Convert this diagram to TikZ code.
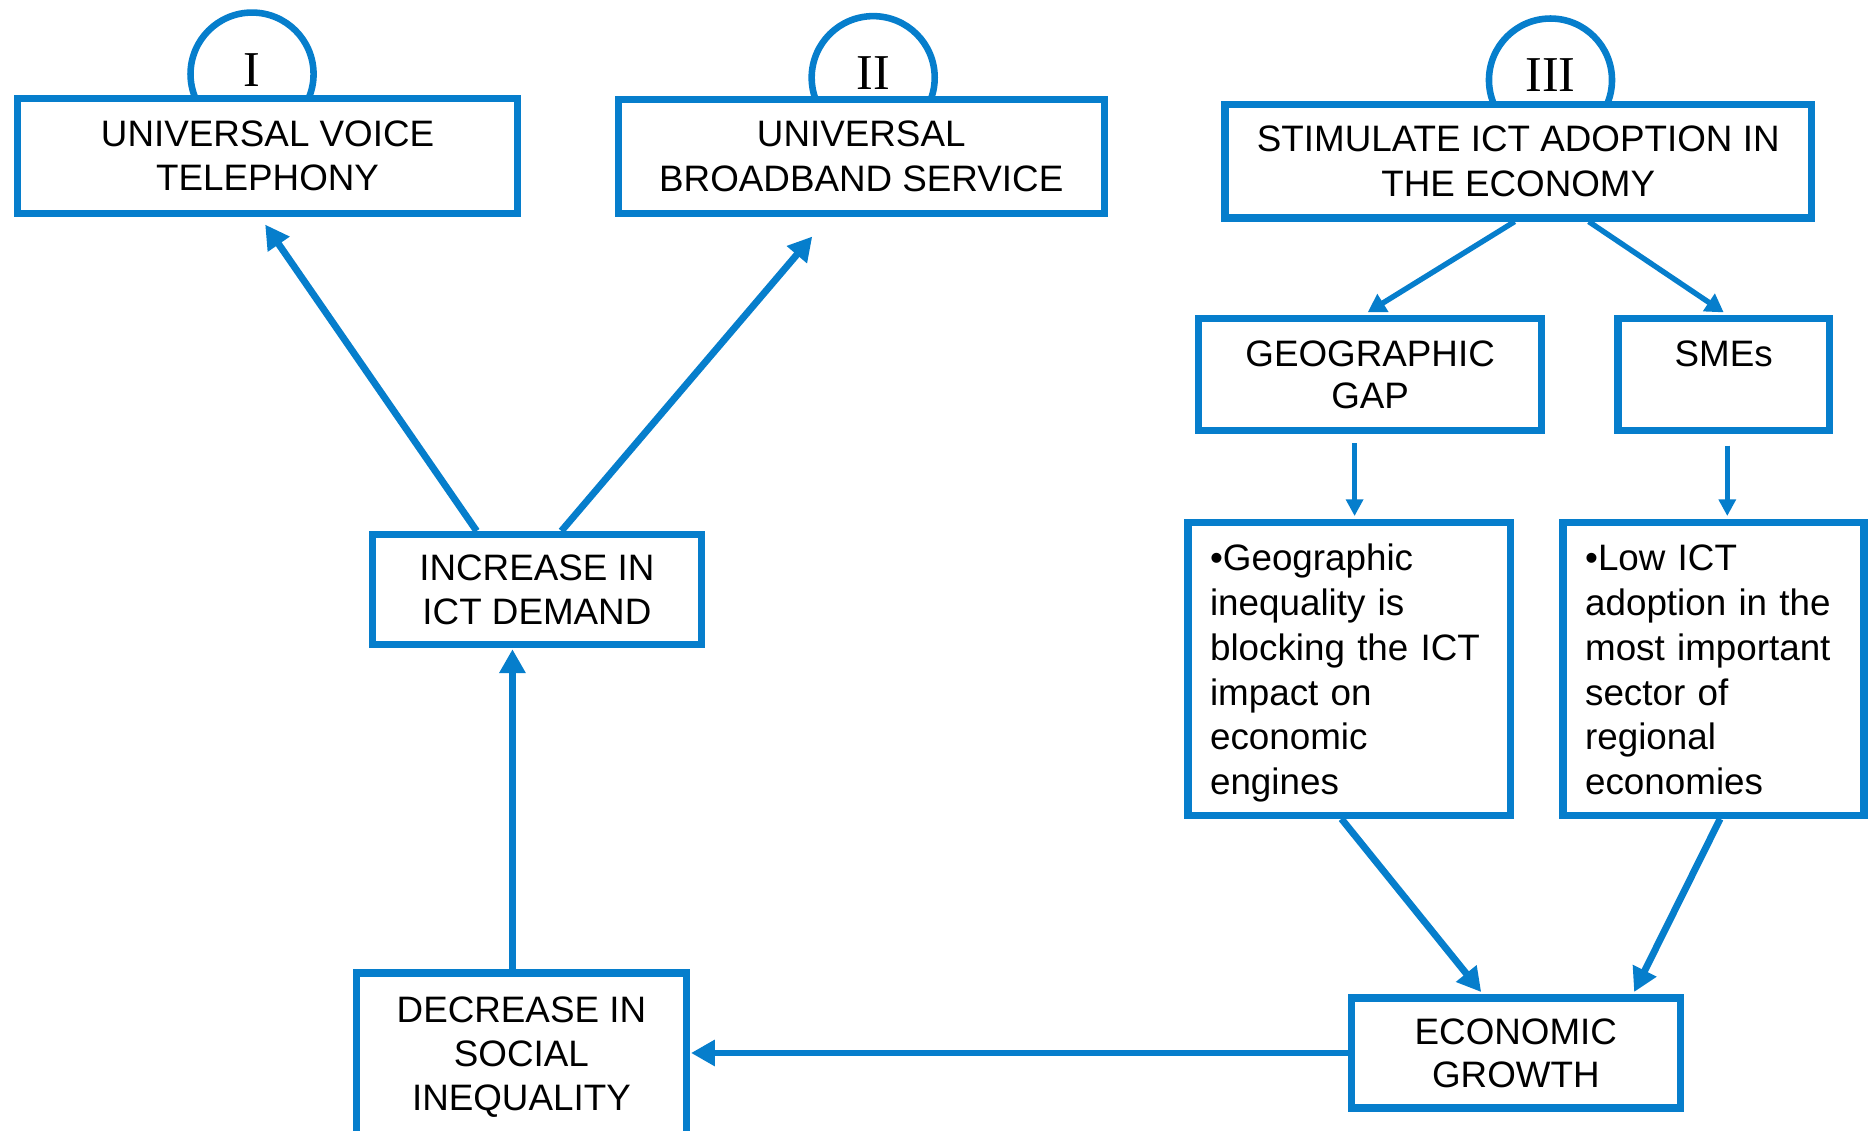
\documentclass[tikz,border=0pt]{standalone}
\usepackage{fontspec}
\setmainfont{Liberation Sans}
\newfontfamily\numfont{Liberation Serif}
\usetikzlibrary{arrows.meta}
\definecolor{blu}{RGB}{6,126,204}
\begin{document}
\begin{tikzpicture}[x=1pt,y=-1pt,
  box/.style={draw=blu, line width=6pt, fill=white, rectangle, inner sep=0pt, align=center,
    font=\fontsize{30.8}{37.5}\selectfont},
  ring/.style={draw=blu, line width=5.5pt, circle, minimum size=103pt, inner sep=0pt},
  num/.style={inner sep=0pt, font=\numfont\fontsize{42}{42}\selectfont},
  arr/.style={draw=blu, line width=5.8pt, -{Triangle[length=20pt,width=21pt]}},
  arrm/.style={draw=blu, line width=4.5pt, -{Triangle[length=15pt,width=17pt]}},
  arrs/.style={draw=blu, line width=4pt, -{Triangle[length=14pt,width=14pt]}}
]
\path[use as bounding box] (0,0) rectangle (1568,946);
\clip (0,0) rectangle (1568,946);

% rings behind the top boxes
\node[ring] (r1) at (211,62) {};
\node[ring] (r2) at (731,65) {};
\node[ring] (r3) at (1298,67) {};

% boxes
\node[box, minimum width=419pt, minimum height=96pt] (b1) at (224,130.5) {UNIVERSAL VOICE\\TELEPHONY};
\node[box, minimum width=407pt, minimum height=95pt] (b2) at (721,131) {UNIVERSAL\\BROADBAND SERVICE};
\node[box, minimum width=491pt, minimum height=95pt] (b3) at (1271,135) {STIMULATE ICT ADOPTION IN\\THE ECONOMY};

\node[num] (n1) at (211,59) {I};
\node[num] (n2) at (731,61) {II};
\node[num] (n3) at (1298,63) {III};

\node[box, minimum width=287pt, minimum height=94pt, font=\fontsize{30.8}{35}\selectfont] (geo) at (1147,313.5) {GEOGRAPHIC\\GAP};
\node[box, minimum width=177pt, minimum height=94pt, font=\fontsize{30.8}{35}\selectfont] (sme) at (1443,313.5) {SMEs\\\phantom{X}};

\node[box, align=left, text width=233pt, minimum width=270pt, minimum height=245pt] (bx1) at (1129.5,560)
  {\rule{0pt}{29.5pt}•Geographic\\inequality is\\blocking the ICT\\impact on\\economic\\engines};
\node[box, align=left, text width=215pt, minimum width=252pt, minimum height=245pt] (bx2) at (1434.5,560)
  {\rule{0pt}{23.5pt}•Low ICT\\adoption in the\\most important\\sector of\\regional\\economies};

\node[box, minimum width=275pt, minimum height=92pt, font=\fontsize{30.8}{36}\selectfont] (eco) at (1269,881.5) {ECONOMIC\\GROWTH};
\node[box, minimum width=276pt, minimum height=141pt, font=\fontsize{30.8}{36.5}\selectfont] (dec) at (436.5,885) {DECREASE IN\\SOCIAL\\INEQUALITY};
\node[box, minimum width=276pt, minimum height=92pt, font=\fontsize{30.8}{37}\selectfont] (inc) at (449.5,493.5) {INCREASE IN\\ICT DEMAND};

% connectors
\draw[arr] ([xshift=-50.5pt]inc.north) -- ([xshift=-2pt,yshift=-6.5pt]b1.south);
\draw[arr] ([xshift=20.5pt]inc.north) -- ([xshift=-41pt,yshift=-16.5pt]b2.south);
\draw[arrm] ([xshift=-3pt]b3.south) -- ([xshift=-2pt,yshift=2pt]geo.north);
\draw[arrm] ([xshift=59pt]b3.south) -- ([yshift=2pt]sme.north);
\draw[arrs] ([xshift=-13pt,yshift=-7.5pt]geo.south) -- ([xshift=-13pt,yshift=2.5pt]geo.south |- bx1.north);
\draw[arrs] ([xshift=3pt,yshift=-9.5pt]sme.south) -- ([xshift=3pt,yshift=2.5pt]sme.south |- bx2.north);
\draw[arr] ([xshift=-6.5pt]bx1.south) -- ([xshift=-29pt,yshift=2pt]eco.north);
\draw[arr] ([xshift=5.5pt]bx2.south) -- ([xshift=99pt,yshift=2pt]eco.north);
\draw[arr] (eco.west) -- ([xshift=1pt]eco.west -| dec.east);
\draw[arr] ([xshift=-7.5pt]dec.north) -- ([xshift=-7.5pt,yshift=-1pt]dec.north |- inc.south);
\end{tikzpicture}
\end{document}
